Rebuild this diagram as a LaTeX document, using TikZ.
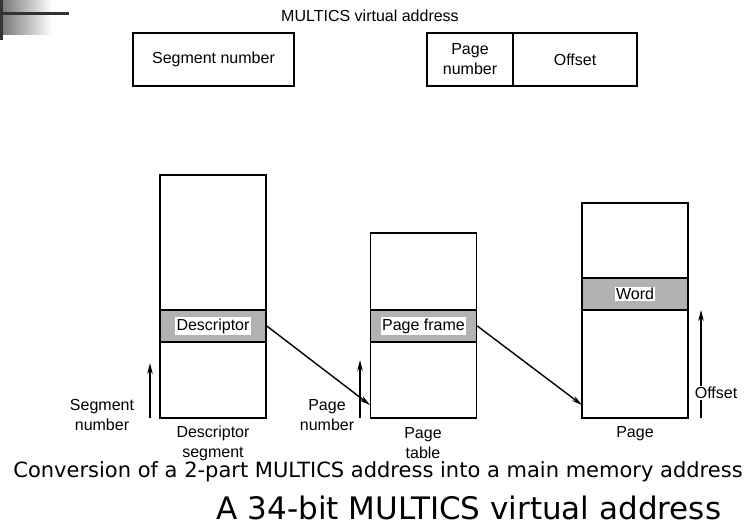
\documentclass[tikz,border=0pt]{standalone}
\usepackage{fontspec}
\setmainfont{Liberation Sans}
\newfontfamily\capfont{DejaVu Sans}
\usetikzlibrary{arrows.meta}
\tikzset{
  mem/.style={rectangle,draw=black,line width=1.6pt,inner sep=0pt,minimum width=106pt},
  band/.style={mem,fill=black!30,minimum height=32pt},
  lbl/.style={fill=white,inner sep=1.5pt},
  tip/.style={-{Stealth[length=11pt,width=5.5pt]},line width=1.4pt}
}
\begin{document}
\begin{tikzpicture}[x=1pt,y=-1pt,font=\fontsize{16}{20}\selectfont]
\useasboundingbox (0,0) rectangle (754,529);
% slide corner
\shade[left color=black!55,right color=white] (0,0) rectangle (52,35);
\fill[black!80] (0,0) rectangle (3,40);
\fill[black!80] (0,12.5) rectangle (69,15.5);

% virtual address
\node at (370,16) (vaddr) {MULTICS virtual address};
\node at (213.5,59.5) [rectangle,draw=black,line width=1.6pt,minimum width=161pt,minimum height=53pt] (segnr) {Segment number};
\node at (470,59.5) [rectangle,draw=black,line width=1.6pt,minimum width=86pt,minimum height=53pt,align=center] (pgnr) {Page\\number};
\node at (575,59.5) [rectangle,draw=black,line width=1.6pt,minimum width=124pt,minimum height=53pt] (offs) {Offset};

% descriptor segment
\node at (213,296.5) [mem,minimum height=243pt] (dseg) {};
\node at (213,326) [band] (dband) {};
\node at (dband) [lbl] (dword) {Descriptor};
\node at (213,443) [align=center] (dsegl) {Descriptor\\segment};

% page table
\node at (423.5,325.5) [mem,minimum height=185pt] (ptab) {};
\node at (423.5,326) [band] (pband) {};
\node at (pband) [lbl] (pword) {Page frame};
\node at (423,443) [align=center] (ptabl) {Page\\table};

% page
\node at (635,310.5) [mem,minimum height=215pt] (page) {};
\node at (635,294) [band] (wband) {};
\node at (wband) [lbl] (wword) {Word};
\node at (635,434) (pagel) {Page};

% arrows
\coordinate (s0) at (150,418);
\coordinate (s1) at (150,363);
\coordinate (p0) at (360,418);
\coordinate (p1) at (360,360);
\coordinate (o0) at (701,418);
\coordinate (o1) at (701,310);
\coordinate (ptin) at (370,405);
\coordinate (pgin) at (582,405);
\draw[tip] (s0) -- (s1);
\draw[tip] (p0) -- (p1);
\draw[tip] (o0) -- (o1);
\draw[tip] (dband.east) -- (ptin);
\draw[tip] (pband.east) -- (pgin);
\node at (102,415) [align=center] (segl) {Segment\\number};
\node at (327,415) [align=center] (pgl) {Page\\number};
\node at (716,393) [lbl,inner sep=1pt] (offl) {Offset};

% captions
\node at (378,472) (cap1) {\capfont\fontsize{21}{25}\selectfont Conversion of a 2-part MULTICS address into a main memory address};
\node at (469,508) (cap2) {\capfont\fontsize{31}{36}\selectfont A 34-bit MULTICS virtual address};
\end{tikzpicture}
\end{document}
